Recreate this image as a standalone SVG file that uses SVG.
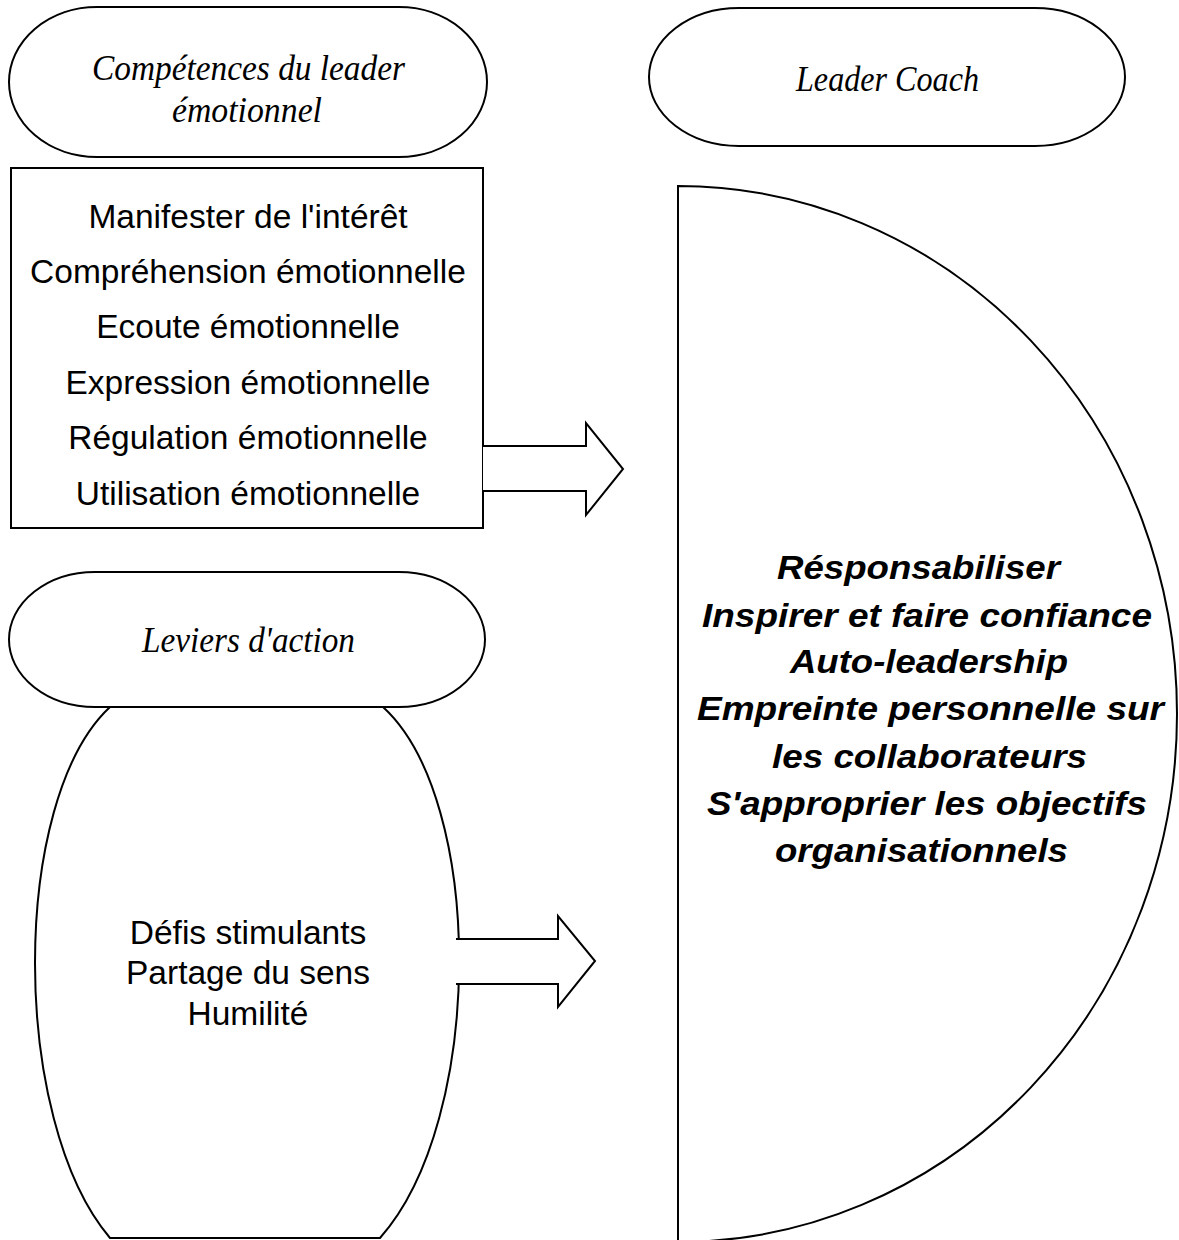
<svg xmlns="http://www.w3.org/2000/svg" width="1179" height="1240" viewBox="0 0 1179 1240">
<style>
.shape{fill:#fff;stroke:#000;stroke-width:2}
.arrow{fill:#fff;stroke:#000;stroke-width:2;stroke-linejoin:miter}
.title{font-family:"Liberation Serif",serif;font-style:italic;font-size:36px;fill:#000}
.body{font-family:"Liberation Sans",Arial,sans-serif;font-size:33.5px;fill:#000;text-anchor:middle}
.bold{font-family:"Liberation Sans",Arial,sans-serif;font-size:34px;font-weight:bold;font-style:italic;fill:#000}
</style>
<rect width="1179" height="1240" fill="#fff"/>
<g id="node-competences-title">
<path class="shape" d="M 97,7 H 399 A 88,75 0 0 1 399,157 H 97 A 88,75 0 0 1 97,7 Z"/>
<text class="title" x="92" y="80" textLength="313" lengthAdjust="spacingAndGlyphs">Compétences du leader</text>
<text class="title" x="172" y="122" textLength="150" lengthAdjust="spacingAndGlyphs">émotionnel</text>
</g>
<g id="node-leader-coach-title">
<path class="shape" d="M 739,8 H 1035 A 90,69 0 0 1 1035,146 H 739 A 90,69 0 0 1 739,8 Z"/>
<text class="title" x="796" y="91" textLength="183" lengthAdjust="spacingAndGlyphs">Leader Coach</text>
</g>
<g id="node-competences-list">
<rect class="shape" x="11" y="168" width="472" height="360"/>
<text class="body" x="248" y="228">Manifester de l'intérêt</text>
<text class="body" x="248" y="283">Compréhension émotionnelle</text>
<text class="body" x="248" y="338">Ecoute émotionnelle</text>
<text class="body" x="248" y="394">Expression émotionnelle</text>
<text class="body" x="248" y="449">Régulation émotionnelle</text>
<text class="body" x="248" y="505">Utilisation émotionnelle</text>
</g>
<g id="node-leader-coach">
<path class="shape" d="M 678,186 A 499,528 0 0 1 678,1242 Z"/>
<text class="bold" x="777" y="579" textLength="283" lengthAdjust="spacingAndGlyphs">Résponsabiliser</text>
<text class="bold" x="702" y="627" textLength="450" lengthAdjust="spacingAndGlyphs">Inspirer et faire confiance</text>
<text class="bold" x="790" y="673" textLength="278" lengthAdjust="spacingAndGlyphs">Auto-leadership</text>
<text class="bold" x="697" y="720" textLength="467" lengthAdjust="spacingAndGlyphs">Empreinte personnelle sur</text>
<text class="bold" x="772" y="768" textLength="315" lengthAdjust="spacingAndGlyphs">les collaborateurs</text>
<text class="bold" x="707" y="815" textLength="440" lengthAdjust="spacingAndGlyphs">S'approprier les objectifs</text>
<text class="bold" x="775" y="862" textLength="293" lengthAdjust="spacingAndGlyphs">organisationnels</text>
</g>
<g id="node-leviers">
<path class="shape" d="M 110,707 H 383 C 485,800 485,1120 380,1238 H 110 C 10,1120 10,800 110,707 Z"/>
<text class="body" x="248" y="944">Défis stimulants</text>
<text class="body" x="248" y="984">Partage du sens</text>
<text class="body" x="248" y="1025">Humilité</text>
</g>
<g id="node-leviers-title">
<path class="shape" d="M 95,572 H 399 A 86,67.5 0 0 1 399,707 H 95 A 86,67.5 0 0 1 95,572 Z"/>
<text class="title" x="142" y="652" textLength="213" lengthAdjust="spacingAndGlyphs">Leviers d'action</text>
</g>
<g id="connectors">
<path class="arrow" d="M 483,446 H 586 V 423 L 623,469 L 586,515 V 491 H 483"/>
<path class="arrow" d="M 456,939 H 558 V 916 L 595,961 L 558,1007 V 984 H 456"/>
</g>
</svg>
